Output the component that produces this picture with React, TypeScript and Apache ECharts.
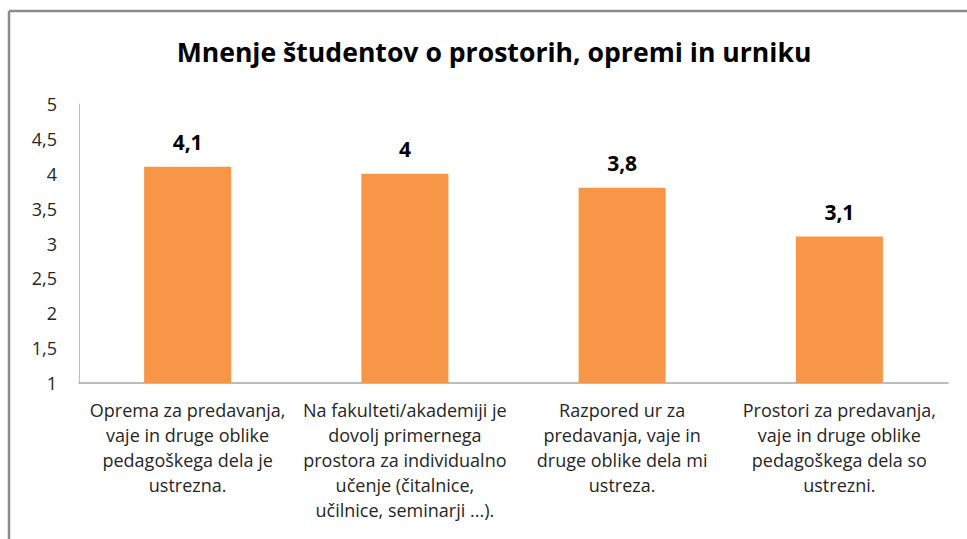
import React, { useEffect, useRef } from "react";
import * as echarts from "echarts";

const titleText = "Mnenje študentov o prostorih, opremi in urniku";
const categories = [
  "Oprema za predavanja,\nvaje in druge oblike\npedagoškega dela je\nustrezna.",
  "Na fakulteti/akademiji je\ndovolj primernega\nprostora za individualno\nučenje (čitalnice,\nučilnice, seminarji ...).",
  "Razpored ur za\npredavanja, vaje in\ndruge oblike dela mi\nustreza.",
  "Prostori za predavanja,\nvaje in druge oblike\npedagoškega dela so\nustrezni.",
];
const values = [4.1, 4, 3.8, 3.1];

const FONT = "'Open Sans', 'Noto Sans', sans-serif";

export default function App() {
  const ref = useRef<HTMLDivElement>(null);
  useEffect(() => {
    document.body.style.margin = "0";
    const chart = echarts.init(ref.current!, undefined, { renderer: "svg" });
    chart.setOption({
      animation: false,
      backgroundColor: "#ffffff",
      title: {
        text: titleText,
        left: 489,
        top: 33,
        textAlign: "center",
        textStyle: { fontFamily: FONT, fontSize: 26.6, fontWeight: "bold", color: "#000000" },
      },
      graphic: [
        { type: "line", shape: { x1: 9, y1: 11, x2: 967, y2: 11 }, style: { stroke: "#8c8c8c", lineWidth: 2.5 } },
        { type: "line", shape: { x1: 9, y1: 11, x2: 9, y2: 539 }, style: { stroke: "#8c8c8c", lineWidth: 2.5 } },
      ],
      grid: { left: 79, right: 19, top: 104, bottom: 156, containLabel: false },
      xAxis: {
        type: "category",
        data: categories,
        axisLine: { lineStyle: { color: "#a6a6a6", width: 1.5 } },
        axisTick: { show: false },
        axisLabel: {
          interval: 0,
          margin: 14,
          fontFamily: FONT,
          fontSize: 18,
          lineHeight: 25,
          color: "#262626",
          align: "center",
          verticalAlign: "top",
        },
      },
      yAxis: {
        type: "value",
        min: 1,
        max: 5,
        interval: 0.5,
        axisLine: { show: true, lineStyle: { color: "#bfbfbf", width: 1 } },
        axisTick: { show: false },
        splitLine: { show: false },
        axisLabel: {
          margin: 22,
          fontFamily: FONT,
          fontSize: 18,
          color: "#262626",
          formatter: (v: number) => String(v).replace(".", ","),
        },
      },
      series: [
        {
          type: "bar",
          data: values,
          barWidth: 87,
          itemStyle: { color: "#F79646" },
          label: {
            show: true,
            position: "top",
            distance: 14,
            fontFamily: FONT,
            fontSize: 21,
            fontWeight: "bold",
            color: "#000000",
            formatter: (p: any) => String(p.value).replace(".", ","),
          },
        },
      ],
    });
    return () => chart.dispose();
  }, []);
  return <div ref={ref} style={{ width: 967, height: 539 }} />;
}
